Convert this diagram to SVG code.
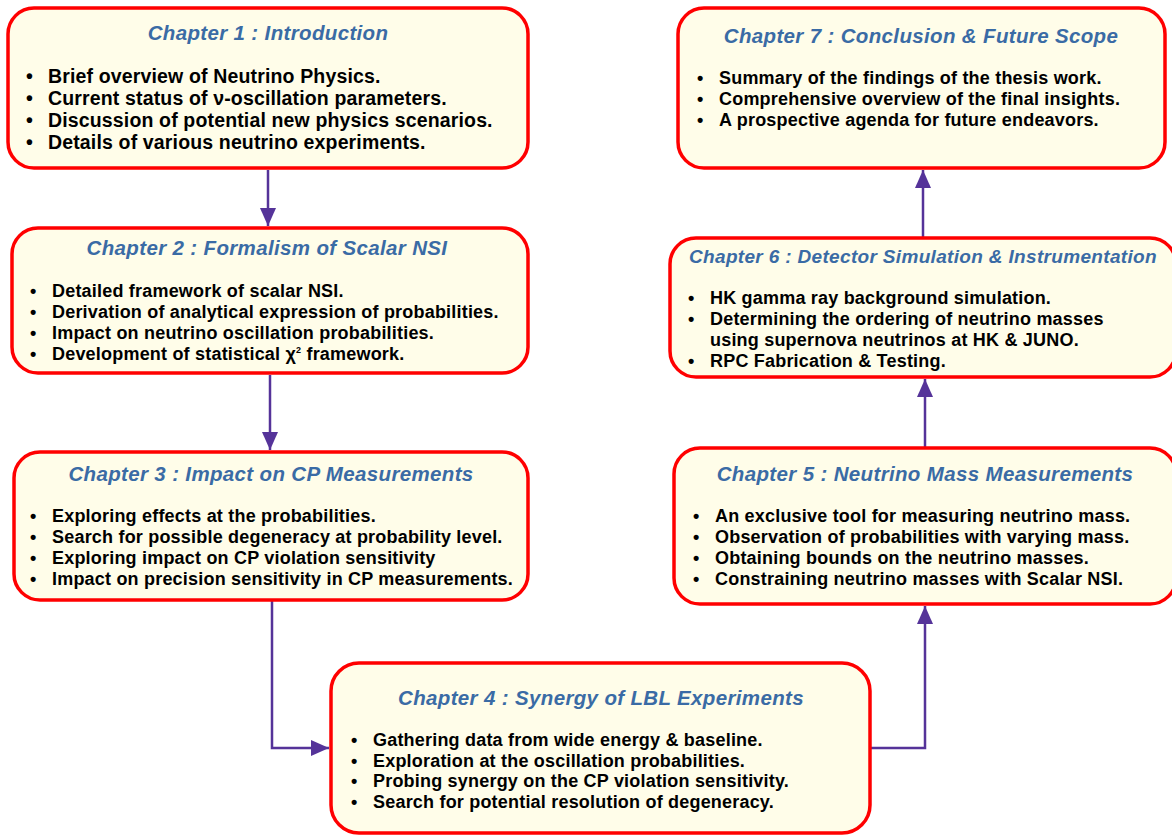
<svg xmlns="http://www.w3.org/2000/svg" width="1172" height="835" viewBox="0 0 1172 835">
<defs>
<style>
.box{fill:#fffde9;stroke:#ff0000;stroke-width:3.5}
.title{font-family:"Liberation Sans",Arial,sans-serif;font-weight:bold;font-style:italic;font-size:20.5px;letter-spacing:0.35px;fill:#3a6ba5;text-anchor:middle}
.t6{font-size:19px;letter-spacing:0.33px}
.body{font-family:"Liberation Sans",Arial,sans-serif;font-weight:bold;font-size:18px;letter-spacing:0.2px;fill:#000}
.big{font-size:19.5px;letter-spacing:0.15px}
.conn{fill:none;stroke:#553399;stroke-width:2.5}
</style>
<marker id="ah" markerUnits="userSpaceOnUse" markerWidth="18" markerHeight="16" refX="18" refY="8" orient="auto" viewBox="0 0 18 16">
<path d="M0,0 L18,8 L0,16 z" fill="#553399"/>
</marker>
</defs>
<rect width="1172" height="835" fill="#ffffff"/>
<g id="connectors">
<path class="conn" d="M268,170 L268,226" marker-end="url(#ah)"/>
<path class="conn" d="M270,375 L270,450" marker-end="url(#ah)"/>
<path class="conn" d="M272,601 L272,748 L329,748" marker-end="url(#ah)"/>
<path class="conn" d="M871,748 L925,748 L925,606" marker-end="url(#ah)"/>
<path class="conn" d="M925,447 L925,379" marker-end="url(#ah)"/>
<path class="conn" d="M923,237 L923,170" marker-end="url(#ah)"/>
</g>
<g id="ch1">
<rect class="box" x="8" y="8" width="520" height="160" rx="26"/>
<text class="title" x="268" y="40">Chapter 1 : Introduction</text>
<text class="body big"><tspan x="26" y="83">•</tspan><tspan x="48" y="83">Brief overview of Neutrino Physics.</tspan><tspan x="26" y="105">•</tspan><tspan x="48" y="105">Current status of ν-oscillation parameters.</tspan><tspan x="26" y="127">•</tspan><tspan x="48" y="127">Discussion of potential new physics scenarios.</tspan><tspan x="26" y="149">•</tspan><tspan x="48" y="149">Details of various neutrino experiments.</tspan></text>
</g>
<g id="ch2">
<rect class="box" x="12" y="228" width="516" height="145" rx="26"/>
<text class="title" x="267" y="255">Chapter 2 : Formalism of Scalar NSI</text>
<text class="body"><tspan x="30" y="297">•</tspan><tspan x="52" y="297">Detailed framework of scalar NSI.</tspan><tspan x="30" y="318">•</tspan><tspan x="52" y="318">Derivation of analytical expression of probabilities.</tspan><tspan x="30" y="339">•</tspan><tspan x="52" y="339">Impact on neutrino oscillation probabilities.</tspan><tspan x="30" y="360">•</tspan><tspan x="52" y="360">Development of statistical χ<tspan dy="-7" font-size="9">2</tspan><tspan dy="7"> framework.</tspan></tspan></text>
</g>
<g id="ch3">
<rect class="box" x="14" y="452" width="514" height="148" rx="26"/>
<text class="title" x="271" y="481">Chapter 3 : Impact on CP Measurements</text>
<text class="body"><tspan x="30" y="522">•</tspan><tspan x="52" y="522">Exploring effects at the probabilities.</tspan><tspan x="30" y="543">•</tspan><tspan x="52" y="543">Search for possible degeneracy at probability level.</tspan><tspan x="30" y="564">•</tspan><tspan x="52" y="564">Exploring impact on CP violation sensitivity</tspan><tspan x="30" y="585">•</tspan><tspan x="52" y="585">Impact on precision sensitivity in CP measurements.</tspan></text>
</g>
<g id="ch4">
<rect class="box" x="331" y="663" width="539" height="170" rx="28"/>
<text class="title" x="601" y="705">Chapter 4 : Synergy of LBL Experiments</text>
<text class="body"><tspan x="351" y="746">•</tspan><tspan x="373" y="746">Gathering data from wide energy &amp; baseline.</tspan><tspan x="351" y="767">•</tspan><tspan x="373" y="767">Exploration at the oscillation probabilities.</tspan><tspan x="351" y="787">•</tspan><tspan x="373" y="787">Probing synergy on the CP violation sensitivity.</tspan><tspan x="351" y="808">•</tspan><tspan x="373" y="808">Search for potential resolution of degeneracy.</tspan></text>
</g>
<g id="ch5">
<rect class="box" x="674" y="448" width="502" height="156" rx="26"/>
<text class="title" x="925" y="481">Chapter 5 : Neutrino Mass Measurements</text>
<text class="body"><tspan x="693" y="522">•</tspan><tspan x="715" y="522">An exclusive tool for measuring neutrino mass.</tspan><tspan x="693" y="543">•</tspan><tspan x="715" y="543">Observation of probabilities with varying mass.</tspan><tspan x="693" y="564">•</tspan><tspan x="715" y="564">Obtaining bounds on the neutrino masses.</tspan><tspan x="693" y="585">•</tspan><tspan x="715" y="585">Constraining neutrino masses with Scalar NSI.</tspan></text>
</g>
<g id="ch6">
<rect class="box" x="670" y="238" width="506" height="139" rx="26"/>
<text class="title t6" x="923" y="263">Chapter 6 : Detector Simulation &amp; Instrumentation</text>
<text class="body"><tspan x="688" y="304">•</tspan><tspan x="710" y="304">HK gamma ray background simulation.</tspan><tspan x="688" y="325">•</tspan><tspan x="710" y="325">Determining the ordering of neutrino masses</tspan><tspan x="710" y="346">using supernova neutrinos at HK &amp; JUNO.</tspan><tspan x="688" y="367">•</tspan><tspan x="710" y="367">RPC Fabrication &amp; Testing.</tspan></text>
</g>
<g id="ch7">
<rect class="box" x="678" y="8" width="487" height="160" rx="26"/>
<text class="title" x="921" y="43">Chapter 7 : Conclusion &amp; Future Scope</text>
<text class="body"><tspan x="697" y="84">•</tspan><tspan x="719" y="84">Summary of the findings of the thesis work.</tspan><tspan x="697" y="105">•</tspan><tspan x="719" y="105">Comprehensive overview of the final insights.</tspan><tspan x="697" y="126">•</tspan><tspan x="719" y="126">A prospective agenda for future endeavors.</tspan></text>
</g>
</svg>
